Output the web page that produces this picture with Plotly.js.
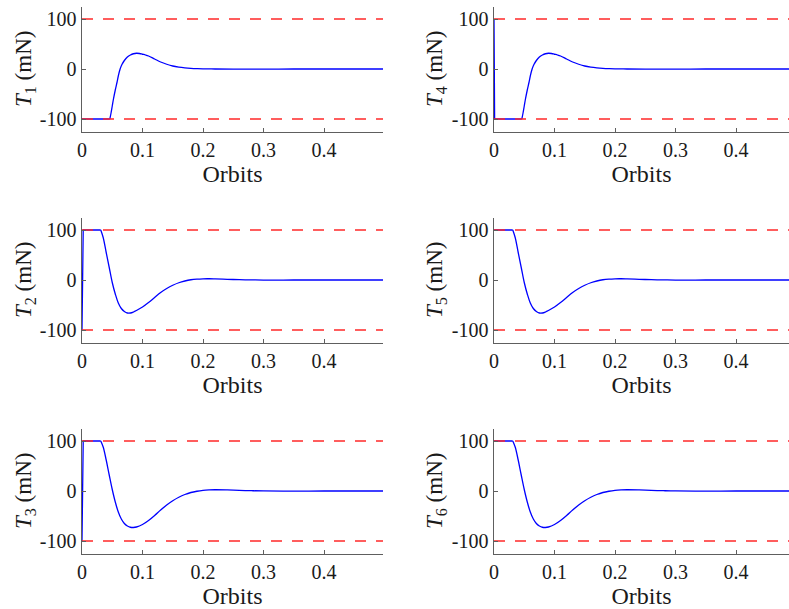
<!DOCTYPE html>
<html>
<head>
<meta charset="utf-8">
<script src="https://cdn.plot.ly/plotly-3.0.1.min.js"></script>
<style>html,body{margin:0;padding:0;background:#fff;}#chart{width:789px;height:609px;}</style>
</head>
<body>
<div id="chart"></div>
<script>
// ---- data (orbits, thrust in mN) ----
const t1Orbits = [0, 0.046, 0.048, 0.05, 0.052, 0.055, 0.058, 0.06, 0.063, 0.066, 0.07, 0.075, 0.08, 0.085, 0.09, 0.095, 0.1, 0.105, 0.11, 0.12, 0.13, 0.14, 0.15, 0.16, 0.17, 0.18, 0.19, 0.2, 0.22, 0.25, 0.3, 0.35, 0.4, 0.45, 0.4975];
const t1Thrust = [-100, -100, -88, -74, -60, -42, -26, -14, 0, 9, 17, 24, 28, 30.5, 31.5, 31, 29.5, 28, 26, 20, 14, 9.5, 6, 3.8, 2.3, 1.3, 0.7, 0.3, 0, -0.3, -0.2, 0, 0, 0, 0];

const t4Orbits = [0, 0.001, 0.046, 0.048, 0.05, 0.052, 0.055, 0.058, 0.06, 0.063, 0.066, 0.07, 0.075, 0.08, 0.085, 0.09, 0.095, 0.1, 0.105, 0.11, 0.12, 0.13, 0.14, 0.15, 0.16, 0.17, 0.18, 0.19, 0.2, 0.22, 0.25, 0.3, 0.35, 0.4, 0.45, 0.4975];
const t4Thrust = [100, -100, -100, -88, -74, -60, -42, -26, -14, 0, 9, 17, 24, 28, 30.5, 31.5, 31, 29.5, 28, 26, 20, 14, 9.5, 6, 3.8, 2.3, 1.3, 0.7, 0.3, 0, -0.3, -0.2, 0, 0, 0, 0];

const t2Orbits = [0, 0.002, 0.031, 0.035, 0.04, 0.045, 0.05, 0.055, 0.06, 0.065, 0.07, 0.075, 0.08, 0.085, 0.09, 0.1, 0.11, 0.12, 0.13, 0.14, 0.15, 0.16, 0.17, 0.18, 0.19, 0.2, 0.21, 0.22, 0.24, 0.26, 0.28, 0.3, 0.35, 0.4, 0.45, 0.4975];
const t2Thrust = [-100, 100, 100, 85, 55, 25, -5, -28, -46, -57, -63, -66, -66, -64, -61, -54, -45, -35, -25, -17, -10.5, -5.5, -2, 0.5, 1.8, 2.4, 2.5, 2.2, 1.4, 0.7, 0.2, -0.1, 0, 0, 0, 0];

const t5Orbits = [0, 0.031, 0.035, 0.04, 0.045, 0.05, 0.055, 0.06, 0.065, 0.07, 0.075, 0.08, 0.085, 0.09, 0.1, 0.11, 0.12, 0.13, 0.14, 0.15, 0.16, 0.17, 0.18, 0.19, 0.2, 0.21, 0.22, 0.24, 0.26, 0.28, 0.3, 0.35, 0.4, 0.45, 0.4975];
const t5Thrust = [100, 100, 85, 55, 25, -5, -28, -46, -57, -63, -66, -66, -64, -61, -54, -45, -35, -25, -17, -10.5, -5.5, -2, 0.5, 1.8, 2.4, 2.5, 2.2, 1.4, 0.7, 0.2, -0.1, 0, 0, 0, 0];

const t3Orbits = [0, 0.002, 0.031, 0.035, 0.04, 0.045, 0.05, 0.055, 0.06, 0.065, 0.07, 0.075, 0.08, 0.085, 0.09, 0.1, 0.11, 0.12, 0.13, 0.14, 0.15, 0.16, 0.17, 0.18, 0.19, 0.2, 0.21, 0.22, 0.24, 0.26, 0.28, 0.3, 0.35, 0.4, 0.45, 0.4975];
const t3Thrust = [-100, 100, 100, 88, 62, 32, 3, -22, -42, -56, -65, -70, -72.5, -73, -72, -67, -59, -49, -38, -28, -19.5, -12.5, -7, -3, -0.5, 1.2, 2.1, 2.5, 2.1, 1.3, 0.6, 0.1, -0.1, 0, 0, 0];

const t6Orbits = [0, 0.031, 0.035, 0.04, 0.045, 0.05, 0.055, 0.06, 0.065, 0.07, 0.075, 0.08, 0.085, 0.09, 0.1, 0.11, 0.12, 0.13, 0.14, 0.15, 0.16, 0.17, 0.18, 0.19, 0.2, 0.21, 0.22, 0.24, 0.26, 0.28, 0.3, 0.35, 0.4, 0.45, 0.4975];
const t6Thrust = [100, 100, 88, 62, 32, 3, -22, -42, -56, -65, -70, -72.5, -73, -72, -67, -59, -49, -38, -28, -19.5, -12.5, -7, -3, -0.5, 1.2, 2.1, 2.5, 2.1, 1.3, 0.6, 0.1, -0.1, 0, 0, 0];

const limitOrbits = [0, 0.4975];
const upperLimit = [100, 100];
const lowerLimit = [-100, -100];

const xTickVals = [0, 0.1, 0.2, 0.3, 0.4];
const xTickText = ['0', '0.1', '0.2', '0.3', '0.4'];
const yTickVals = [-100, 0, 100];
const yTickText = ['-100', '0', '100'];
const xTitle = 'Orbits';

const panelNames = ['1', '4', '2', '5', '3', '6'];
const panelOrbits = [t1Orbits, t4Orbits, t2Orbits, t5Orbits, t3Orbits, t6Orbits];
const panelThrust = [t1Thrust, t4Thrust, t2Thrust, t5Thrust, t3Thrust, t6Thrust];

// ---- layout helpers ----
const W = 789, H = 609;
const colDom = [[82 / W, 383 / W], [494 / W, 1]];
const colRange = [[0, 0.4975], [0, (789 - 494) / 605]];
const rowPix = [[6.5, 131.5], [217.5, 342.5], [428.5, 553.5]];
const yTitleX = [25, 436];
const axisColor = '#5e5e5e';
const textColor = '#1a1a1a';
const fontFam = '"Liberation Serif", "Times New Roman", serif';

const traces = [];
const annotations = [];
const layout = {
  width: W, height: H,
  margin: {l: 0, r: 0, t: 0, b: 0},
  paper_bgcolor: '#fff', plot_bgcolor: '#fff',
  showlegend: false,
  font: {family: fontFam, color: textColor, size: 20}
};

for (let i = 0; i < 6; i++) {
  const row = Math.floor(i / 2), col = i % 2;
  const n = i + 1;
  const xa = 'x' + (n === 1 ? '' : n), ya = 'y' + (n === 1 ? '' : n);
  const xk = 'xaxis' + (n === 1 ? '' : n), yk = 'yaxis' + (n === 1 ? '' : n);
  const yDom = [1 - rowPix[row][1] / H, 1 - rowPix[row][0] / H];
  layout[xk] = {
    domain: colDom[col], anchor: ya, range: colRange[col],
    showline: true, linecolor: axisColor, linewidth: 1.5,
    ticks: 'inside', ticklen: 4, tickcolor: axisColor, tickwidth: 1,
    tickvals: xTickVals, ticktext: xTickText,
    showgrid: false, zeroline: false,
    tickfont: {family: fontFam, size: 20, color: textColor},
    title: {text: xTitle, font: {family: fontFam, size: 24, color: textColor}, standoff: 2}
  };
  layout[yk] = {
    domain: yDom, anchor: xa, range: [-125, 125],
    showline: true, linecolor: axisColor, linewidth: 1.5,
    ticks: 'inside', ticklen: 4, tickcolor: axisColor, tickwidth: 1,
    tickvals: yTickVals, ticktext: yTickText,
    showgrid: false, zeroline: false,
    tickfont: {family: fontFam, size: 20, color: textColor}
  };
  annotations.push({
    xref: 'paper', yref: ya, x: yTitleX[col] / W, y: 0,
    xanchor: 'center', yanchor: 'middle', textangle: -90, showarrow: false,
    text: '<i>T</i><sub>' + panelNames[i] + '</sub> (mN)',
    font: {family: fontFam, size: 23, color: textColor}
  });

  const xs = panelOrbits[i], ys = panelThrust[i];
  // saturated part (at the ±100 mN limits) drawn straight, transient drawn smooth
  let k = 0;
  for (let j = 0; j < ys.length; j++) { if (Math.abs(ys[j]) === 100) k = j; }
  traces.push({
    x: xs.slice(0, k + 1), y: ys.slice(0, k + 1), xaxis: xa, yaxis: ya,
    mode: 'lines', line: {color: 'rgb(0,0,255)', width: 1.3, shape: 'linear'}, hoverinfo: 'skip'
  });
  traces.push({
    x: xs.slice(k), y: ys.slice(k), xaxis: xa, yaxis: ya,
    mode: 'lines', line: {color: 'rgb(0,0,255)', width: 1.3, shape: 'spline', smoothing: 1}, hoverinfo: 'skip'
  });
  traces.push({
    x: limitOrbits, y: upperLimit, xaxis: xa, yaxis: ya,
    mode: 'lines', line: {color: 'rgb(255,40,40)', width: 1.5, dash: '11px,10px'}, hoverinfo: 'skip'
  });
  traces.push({
    x: limitOrbits, y: lowerLimit, xaxis: xa, yaxis: ya,
    mode: 'lines', line: {color: 'rgb(255,40,40)', width: 1.5, dash: '11px,10px'}, hoverinfo: 'skip'
  });
}
layout.annotations = annotations;

Plotly.newPlot('chart', traces, layout, {staticPlot: true, displayModeBar: false});
</script>
</body>
</html>
